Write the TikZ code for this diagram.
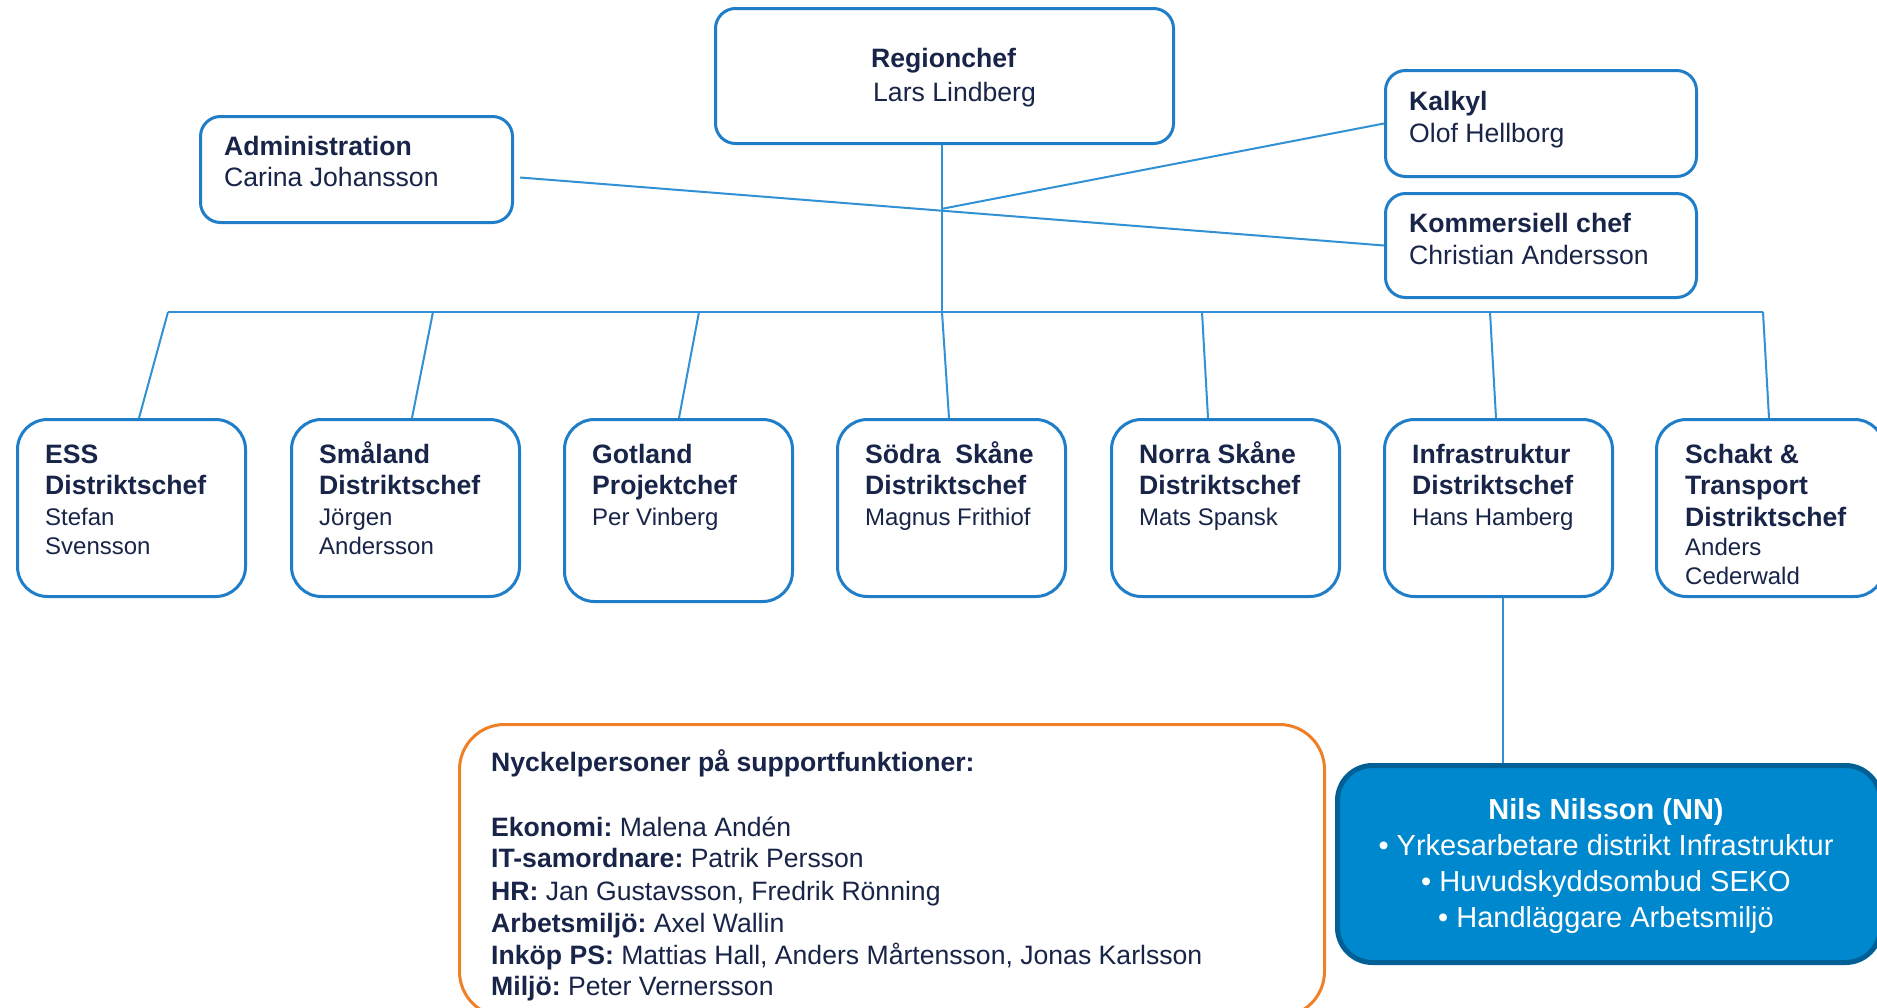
\documentclass[tikz,border=0pt]{standalone}
\usepackage{fontspec}
\setmainfont{Liberation Sans}
\usetikzlibrary{calc}
\definecolor{boxblue}{RGB}{32,126,200}
\definecolor{connblue}{RGB}{50,145,212}
\definecolor{navy}{RGB}{24,36,72}
\definecolor{nilsfill}{RGB}{0,136,206}
\definecolor{nilsdraw}{RGB}{0,96,150}
\definecolor{orangeline}{RGB}{238,128,40}
\frenchspacing
\begin{document}
\begin{tikzpicture}[x=1pt,y=-1pt,
  topbox/.style={draw=boxblue,line width=3pt,rounded corners=20pt,inner sep=0pt,anchor=north west},
  distbox/.style={draw=boxblue,line width=3pt,rounded corners=30pt,inner sep=0pt,anchor=north west,minimum width=228pt,minimum height=177pt},
  conn/.style={draw=connblue,line width=2pt},
  hd/.style={font=\fontsize{26.6}{30}\selectfont\bfseries,text=navy,inner sep=0pt,anchor=base west},
  nm/.style={font=\fontsize{26.6}{30}\selectfont,text=navy,inner sep=0pt,anchor=base west},
  dnm/.style={font=\fontsize{24}{28}\selectfont,text=navy,inner sep=0pt,anchor=base west},
  nilstxt/.style={font=\fontsize{29}{34}\selectfont,text=white,inner sep=0pt,anchor=base},
]
\clip (0,0) rectangle (1877,1007);
\fill[white] (0,0) rectangle (1877,1007);

% top boxes
\node[topbox,minimum width=458pt,minimum height=135pt] (reg) at (714,7) {};
\node[topbox,minimum width=312pt,minimum height=106pt] (admin) at (199,115) {};
\node[topbox,minimum width=311pt,minimum height=106pt] (kalk) at (1384,69) {};
\node[topbox,minimum width=311pt,minimum height=104pt] (komm) at (1384,192) {};

\node[hd] (regt) at ([shift={(157,60)}]reg.north west) {Regionchef};
\node[nm] (regn) at ([shift={(159,94)}]reg.north west) {Lars Lindberg};
\node[hd] (admint) at ([shift={(25,40.5)}]admin.north west) {Administration};
\node[nm] (adminn) at ([shift={(25,71.5)}]admin.north west) {Carina Johansson};
\node[hd] (kalkt) at ([shift={(25,41.5)}]kalk.north west) {Kalkyl};
\node[nm] (kalkn) at ([shift={(25,73.5)}]kalk.north west) {Olof Hellborg};
\node[hd] (kommt) at ([shift={(25,40.5)}]komm.north west) {Kommersiell chef};
\node[nm] (kommn) at ([shift={(25,72.5)}]komm.north west) {Christian Andersson};

% connectors at the top
\coordinate (cross) at (942,208.8);
\coordinate (busC) at (942,312);
\coordinate (busL) at (168,312);
\coordinate (busR) at (1763,312);
\draw[conn] ([shift={(6,8)}]admin.east) -- (komm.west);
\draw[conn] (kalk.west) -- (cross);
\draw[conn] (reg.south -| busC) -- (busC);
\draw[conn] (busL) -- (busR);

% district boxes
\node[distbox] (ess) at (16,418) {};
\node[distbox] (sma) at (290,418) {};
\node[distbox,minimum height=182pt] (got) at (563,418) {};
\node[distbox] (sod) at (836,418) {};
\node[distbox] (nor) at (1110,418) {};
\node[distbox] (inf) at (1383,418) {};
\node[distbox] (sch) at (1655,418) {};

% bus to boxes
\coordinate (b1) at (168,312);
\coordinate (b2) at (433,312);
\coordinate (b3) at (699,312);
\coordinate (b4) at (942,312);
\coordinate (b5) at (1202,312);
\coordinate (b6) at (1490,312);
\coordinate (b7) at (1763,312);
\draw[conn] (b1) -- ([xshift=123pt]ess.north west);
\draw[conn] (b2) -- ([xshift=122pt]sma.north west);
\draw[conn] (b3) -- ([xshift=116pt]got.north west);
\draw[conn] (b4) -- ([xshift=113pt]sod.north west);
\draw[conn] (b5) -- ([xshift=98pt]nor.north west);
\draw[conn] (b6) -- ([xshift=113pt]inf.north west);
\draw[conn] (b7) -- ([xshift=114pt]sch.north west);

% district texts
\node[hd] (esst1) at ([shift={(29,45.5)}]ess.north west) {ESS};
\node[hd] (esst2) at ([shift={(29,76.5)}]ess.north west) {Distriktschef};
\node[dnm] (essn1) at ([shift={(29,107.6)}]ess.north west) {Stefan};
\node[dnm] (essn2) at ([shift={(29,136.6)}]ess.north west) {Svensson};

\node[hd] (smat1) at ([shift={(29,45.5)}]sma.north west) {Småland};
\node[hd] (smat2) at ([shift={(29,76.5)}]sma.north west) {Distriktschef};
\node[dnm] (sman1) at ([shift={(29,107.6)}]sma.north west) {Jörgen};
\node[dnm] (sman2) at ([shift={(29,136.6)}]sma.north west) {Andersson};

\node[hd] (gott1) at ([shift={(29,45.5)}]got.north west) {Gotland};
\node[hd] (gott2) at ([shift={(29,76.5)}]got.north west) {Projektchef};
\node[dnm] (gotn1) at ([shift={(29,107.6)}]got.north west) {Per Vinberg};

\node[hd] (sodt1) at ([shift={(29,45.5)}]sod.north west) {Södra\ \ Skåne};
\node[hd] (sodt2) at ([shift={(29,76.5)}]sod.north west) {Distriktschef};
\node[dnm] (sodn1) at ([shift={(29,107.6)}]sod.north west) {Magnus Frithiof};

\node[hd] (nort1) at ([shift={(29,45.5)}]nor.north west) {Norra Skåne};
\node[hd] (nort2) at ([shift={(29,76.5)}]nor.north west) {Distriktschef};
\node[dnm] (norn1) at ([shift={(29,107.6)}]nor.north west) {Mats Spansk};

\node[hd] (inft1) at ([shift={(29,45.5)}]inf.north west) {Infrastruktur};
\node[hd] (inft2) at ([shift={(29,76.5)}]inf.north west) {Distriktschef};
\node[dnm] (infn1) at ([shift={(29,107.6)}]inf.north west) {Hans Hamberg};

\node[hd] (scht1) at ([shift={(30,45.5)}]sch.north west) {Schakt \&};
\node[hd] (scht2) at ([shift={(30,76.5)}]sch.north west) {Transport};
\node[hd] (scht3) at ([shift={(30,108.5)}]sch.north west) {Distriktschef};
\node[dnm] (schn1) at ([shift={(30,137.6)}]sch.north west) {Anders};
\node[dnm] (schn2) at ([shift={(30,166.6)}]sch.north west) {Cederwald};

% orange support box
\node[draw=orangeline,line width=3pt,rounded corners=45pt,inner sep=0pt,anchor=north west,minimum width=865pt,minimum height=292pt] (sup) at (458,723) {};
\node[hd] (supt) at ([shift={(33,48.5)}]sup.north west) {Nyckelpersoner på supportfunktioner:};
\node[nm] (sup1) at ([shift={(33,113.5)}]sup.north west) {\textbf{Ekonomi:} Malena Andén};
\node[nm] (sup2) at ([shift={(33,144.5)}]sup.north west) {\textbf{IT-samordnare:} Patrik Persson};
\node[nm] (sup3) at ([shift={(33,177.5)}]sup.north west) {\textbf{HR:} Jan Gustavsson, Fredrik Rönning};
\node[nm] (sup4) at ([shift={(33,209.5)}]sup.north west) {\textbf{Arbetsmiljö:} Axel Wallin};
\node[nm] (sup5) at ([shift={(33,241.5)}]sup.north west) {\textbf{Inköp PS:} Mattias Hall, Anders Mårtensson, Jonas Karlsson};
\node[nm] (sup6) at ([shift={(33,272.5)}]sup.north west) {\textbf{Miljö:} Peter Vernersson};

% Nils box
\node[draw=nilsdraw,fill=nilsfill,line width=5pt,rounded corners=35pt,inner sep=0pt,anchor=north west,minimum width=543pt,minimum height=197pt] (nils) at (1335,763) {};
\draw[conn] ([xshift=4pt]inf.south) -- ([xshift=4pt]inf.south |- nils.north);
\node[nilstxt,font=\fontsize{29}{34}\selectfont\bfseries] (nils0) at (1606,819.4) {Nils Nilsson (NN)};
\node[nilstxt] (nils1) at (1606,855.4) {• Yrkesarbetare distrikt Infrastruktur};
\node[nilstxt] (nils2) at (1606,891.4) {• Huvudskyddsombud SEKO};
\node[nilstxt] (nils3) at (1606,927.4) {• Handläggare Arbetsmiljö};
\end{tikzpicture}
\end{document}
